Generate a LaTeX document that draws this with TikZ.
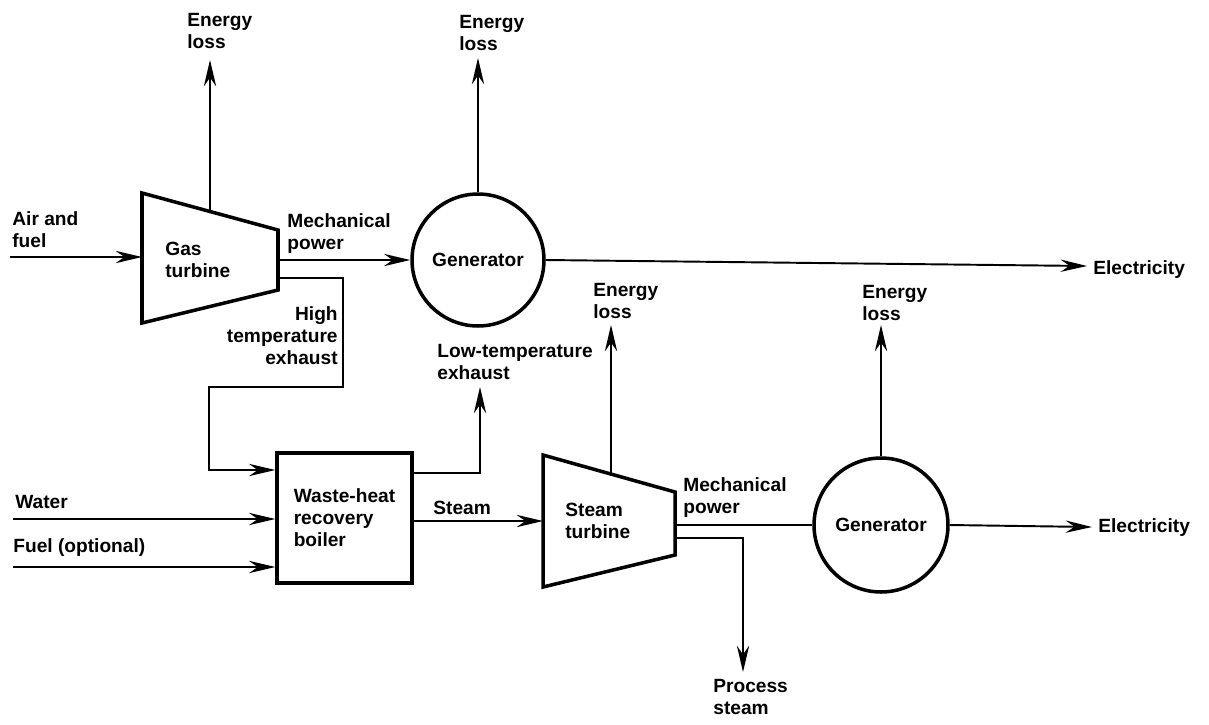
\documentclass[tikz,border=0pt]{standalone}
\usepackage{fontspec}
\setmainfont{Liberation Sans}
\usetikzlibrary{arrows.meta}
\begin{document}
\begin{tikzpicture}[x=0.02cm,y=-0.02cm,
  lbl/.style={font=\bfseries\fontsize{10.9}{12.5}\selectfont, inner sep=0pt, align=left},
  unit/.style={draw, line width=2pt, line join=miter},
  gen/.style={unit, circle, inner sep=0pt, lbl},
  flow/.style={line width=1.1pt},
  arr/.style={flow, -{Stealth[length=15pt,width=7pt,inset=5pt]}},
]
\useasboundingbox (0,0) rectangle (1209,724);

% ---------- gas turbine ----------
\coordinate (gtA) at (142,193);
\coordinate (gtB) at (278,230);
\coordinate (gtC) at (278,290);
\coordinate (gtD) at (142,323);
\draw[unit] (gtA) -- (gtB) -- (gtC) -- (gtD) -- cycle;
\node[lbl, anchor=west] (gttext) at (165,260) {Gas\\turbine};
\coordinate (gtin)   at (142,257);
\coordinate (gtloss) at (210,211);
\coordinate (gtmech) at (278,260);
\coordinate (gtexh)  at (278,278);

% ---------- first generator ----------
\node[gen, minimum size=2.64cm] (gen1) at (478,260) {Generator};

% ---------- waste-heat recovery boiler ----------
\node[unit, lbl, rectangle, line width=1.9pt, minimum width=2.7cm, minimum height=2.6cm]
  (boiler) at (344.5,518) {Waste-heat\\recovery\\boiler};

% ---------- steam turbine ----------
\coordinate (stA) at (543,455);
\coordinate (stB) at (675,492);
\coordinate (stC) at (675,555);
\coordinate (stD) at (543,587);
\draw[unit] (stA) -- (stB) -- (stC) -- (stD) -- cycle;
\node[lbl, anchor=west] (sttext) at (565,521) {Steam\\turbine};
\coordinate (stin)   at (543,521);
\coordinate (stloss) at (611,474);
\coordinate (stmech) at (675,525);
\coordinate (stproc) at (675,538);

% ---------- second generator ----------
\node[gen, minimum size=2.68cm] (gen2) at (881,525) {Generator};

% ---------- free ends and bends ----------
\coordinate (airin)   at (10,257);
\coordinate (waterin) at (13,519);
\coordinate (fuelin)  at (13,567);
\coordinate (gtlosst) at (210,60);
\coordinate (g1losst) at (478,58);
\coordinate (el1t)    at (1087,266);
\coordinate (hb1)     at (343,278);
\coordinate (hb2)     at (343,387);
\coordinate (hb3)     at (209,387);
\coordinate (hb4)     at (209,470);
\coordinate (lb1)     at (480,473);
\coordinate (lbt)     at (480,387);
\coordinate (stlosst) at (611,325);
\coordinate (pb1)     at (743,538);
\coordinate (pbt)     at (743,672);
\coordinate (g2losst) at (881,325);
\coordinate (el2t)    at (1092,527);

% ---------- flows ----------
\draw[arr] (airin) -- (gtin);
\draw[arr] (gtloss) -- (gtlosst);
\draw[arr] (gtmech) -- (gen1.west);
\draw[arr] (gen1.north) -- (g1losst);
\draw[arr] (gen1.east) -- (el1t);
\draw[arr] (gtexh) -- (hb1) -- (hb2) -- (hb3) -- (hb4) -- (boiler.west |- hb4);
\draw[arr] (waterin) -- (boiler.west |- waterin);
\draw[arr] (fuelin) -- (boiler.west |- fuelin);
\draw[arr] (boiler.east |- lb1) -- (lb1) -- (lbt);
\draw[arr] (boiler.east |- stin) -- (stin);
\draw[arr] (stloss) -- (stlosst);
\draw[flow] (stmech) -- (gen2.west |- stmech);
\draw[arr] (stproc) -- (pb1) -- (pbt);
\draw[arr] (gen2.north) -- (g2losst);
\draw[arr] (gen2.east) -- (el2t);

% ---------- labels ----------
\node[lbl, anchor=west] (l1) at (187,31) {Energy\\loss};
\node[lbl, anchor=west] (l2) at (459,33) {Energy\\loss};
\node[lbl, anchor=west] (l3) at (12,230) {Air and\\fuel};
\node[lbl, anchor=west] (l4) at (287,234) {Mechanical\\power};
\node[lbl, anchor=west] (l5) at (1093,270) {Electricity};
\node[lbl, anchor=east, align=right] (l6) at (338,336) {High\\temperature\\exhaust};
\node[lbl, anchor=west] (l7) at (593,301) {Energy\\loss};
\node[lbl, anchor=west] (l8) at (862,303) {Energy\\loss};
\node[lbl, anchor=west] (l9) at (437,362) {Low-temperature\\exhaust};
\node[lbl, anchor=west] (l10) at (15,502) {Water};
\node[lbl, anchor=west] (l11) at (13,548) {Fuel (optional)};
\node[lbl, anchor=west] (l12) at (433,508) {Steam};
\node[lbl, anchor=west] (l13) at (683,498) {Mechanical\\power};
\node[lbl, anchor=west] (l14) at (1098,528) {Electricity};
\node[lbl, anchor=west] (l15) at (713,697) {Process\\steam};
\end{tikzpicture}
\end{document}
